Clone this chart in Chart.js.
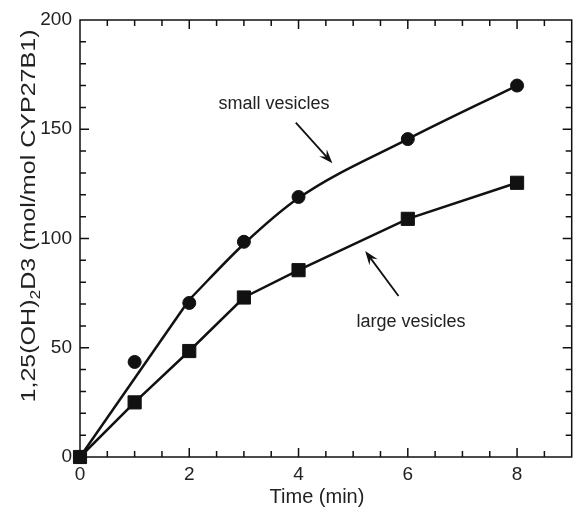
<!DOCTYPE html>
<html>
<head>
<meta charset="utf-8">
<script src="https://cdn.jsdelivr.net/npm/chart.js@4"></script>
<style>
  body { margin: 0; background: #fff; }
  #wrap { width: 582px; height: 511px; }
</style>
</head>
<body>
<div id="wrap"><canvas id="myChart"></canvas></div>
<script>
// data
const timeMin = [0, 1, 2, 3, 4, 6, 8];
const smallVesicles = [0, 43.5, 70.5, 98.5, 119, 145.5, 170];
const largeVesicles = [0, 25, 48.5, 73, 85.5, 109, 125.5];
// fitted curve for small vesicles: straight start, then curved part
const smallFitStartTime = [0, 2];
const smallFitStart = [0, 72];
const smallFitTime = [2, 3, 4, 6, 8];
const smallFit = [72, 97.5, 118.5, 145.5, 170];
const xTicks = [0, 2, 4, 6, 8];
const yTicks = [0, 50, 100, 150, 200];

const FONT = '"Liberation Sans", Arial, Helvetica, sans-serif';
const INK = '#111';

function pts(xs, ys) {
  return xs.map((x, i) => ({ x: x, y: ys[i] }));
}

// frame, inward ticks, y title with subscript, arrows + labels
const decorations = {
  id: 'decorations',
  afterDraw(chart) {
    const ctx = chart.ctx;
    const a = chart.chartArea;
    const xs = chart.scales.x, ys = chart.scales.y;
    ctx.save();
    ctx.strokeStyle = INK;
    ctx.lineWidth = 1.5;
    ctx.strokeRect(a.left, a.top, a.right - a.left, a.bottom - a.top);

    ctx.beginPath();
    for (let v = 0.5; v < 9; v += 0.5) {
      const len = v % 2 === 0 ? 9 : 6;
      const px = xs.getPixelForValue(v);
      ctx.moveTo(px, a.bottom); ctx.lineTo(px, a.bottom - len);
      ctx.moveTo(px, a.top); ctx.lineTo(px, a.top + len);
    }
    for (let v = 10; v < 200; v += 10) {
      const len = v % 50 === 0 ? 9 : 6;
      const py = ys.getPixelForValue(v);
      ctx.moveTo(a.left, py); ctx.lineTo(a.left + len, py);
      ctx.moveTo(a.right, py); ctx.lineTo(a.right - len, py);
    }
    ctx.stroke();

    // x title
    ctx.fillStyle = '#222';
    ctx.font = '20px ' + FONT;
    ctx.textAlign = 'center';
    ctx.textBaseline = 'middle';
    ctx.fillText('Time (min)', 317, 497);

    // y title, rotated, with subscript 2
    ctx.save();
    ctx.translate(29, 216);
    ctx.rotate(-Math.PI / 2);
    const big = '20px ' + FONT, small = '14px ' + FONT;
    const p1 = '1,25(OH)', p2 = '2', p3 = 'D3 (mol/mol CYP27B1)';
    ctx.font = big; const w1 = ctx.measureText(p1).width, w3 = ctx.measureText(p3).width;
    ctx.font = small; const w2 = ctx.measureText(p2).width;
    const total = w1 + w2 + w3;
    const sx = 373 / total;
    ctx.scale(sx, 1);
    let x0 = -total / 2;
    ctx.textAlign = 'left';
    ctx.textBaseline = 'middle';
    ctx.font = big; ctx.fillText(p1, x0, 0);
    ctx.font = small; ctx.fillText(p2, x0 + w1, 7);
    ctx.font = big; ctx.fillText(p3, x0 + w1 + w2, 0);
    ctx.restore();

    // annotations
    const notes = chart.options.plugins.decorations.notes;
    ctx.font = '18px ' + FONT;
    ctx.textAlign = 'center';
    ctx.textBaseline = 'middle';
    notes.forEach(n => {
      ctx.fillStyle = '#222';
      ctx.fillText(n.text, xs.getPixelForValue(n.tx), ys.getPixelForValue(n.ty));
      const x1 = xs.getPixelForValue(n.from[0]), y1 = ys.getPixelForValue(n.from[1]);
      const x2 = xs.getPixelForValue(n.to[0]), y2 = ys.getPixelForValue(n.to[1]);
      const ang = Math.atan2(y2 - y1, x2 - x1);
      ctx.strokeStyle = INK;
      ctx.lineWidth = 1.8;
      ctx.beginPath();
      ctx.moveTo(x1, y1);
      ctx.lineTo(x2 - 8 * Math.cos(ang), y2 - 8 * Math.sin(ang));
      ctx.stroke();
      ctx.fillStyle = INK;
      ctx.beginPath();
      ctx.moveTo(x2, y2);
      ctx.lineTo(x2 - 15 * Math.cos(ang - 0.35), y2 - 15 * Math.sin(ang - 0.35));
      ctx.lineTo(x2 - 9 * Math.cos(ang), y2 - 9 * Math.sin(ang));
      ctx.lineTo(x2 - 15 * Math.cos(ang + 0.35), y2 - 15 * Math.sin(ang + 0.35));
      ctx.closePath();
      ctx.fill();
    });
    ctx.restore();
  }
};

const ctx = document.getElementById('myChart').getContext('2d');
new Chart(ctx, {
  type: 'scatter',
  data: {
    datasets: [
      {
        label: 'small vesicles fit (start)',
        data: pts(smallFitStartTime, smallFitStart),
        showLine: true,
        borderColor: INK,
        borderWidth: 2.5,
        pointRadius: 0,
        clip: false,
        order: 4
      },
      {
        label: 'small vesicles fit',
        data: pts(smallFitTime, smallFit),
        showLine: true,
        borderColor: INK,
        borderWidth: 2.5,
        pointRadius: 0,
        cubicInterpolationMode: 'monotone',
        clip: false,
        order: 3
      },
      {
        label: 'small vesicles',
        data: pts(timeMin, smallVesicles),
        showLine: false,
        pointStyle: 'circle',
        pointRadius: 6.5,
        pointBorderWidth: 1,
        backgroundColor: INK,
        borderColor: INK,
        clip: false,
        order: 2
      },
      {
        label: 'large vesicles',
        data: pts(timeMin, largeVesicles),
        showLine: true,
        borderColor: INK,
        borderWidth: 2.5,
        pointStyle: 'rect',
        pointRadius: 9.3,
        pointBorderWidth: 1,
        pointBackgroundColor: INK,
        pointBorderColor: INK,
        clip: false,
        order: 1
      }
    ]
  },
  options: {
    responsive: true,
    maintainAspectRatio: false,
    animation: false,
    layout: { padding: { left: 0, right: 1, top: 20, bottom: 0 } },
    plugins: {
      legend: { display: false },
      tooltip: { enabled: false },
      decorations: {
        notes: [
          { text: 'small vesicles', tx: 3.55, ty: 161.5, from: [3.95, 153], to: [4.62, 134.4] },
          { text: 'large vesicles', tx: 6.06, ty: 61.8, from: [5.83, 73.7], to: [5.22, 94.3] }
        ]
      }
    },
    scales: {
      x: {
        type: 'linear',
        min: 0,
        max: 9,
        afterBuildTicks: s => { s.ticks = xTicks.map(v => ({ value: v })); },
        afterFit: s => { s.height = 54; },
        grid: { display: false, drawTicks: false },
        border: { display: false },
        ticks: { color: '#222', padding: 6, font: { size: 19, family: FONT } }
      },
      y: {
        type: 'linear',
        min: 0,
        max: 200,
        afterBuildTicks: s => { s.ticks = yTicks.map(v => ({ value: v })); },
        afterFit: s => { s.width = 80; },
        grid: { display: false, drawTicks: false },
        border: { display: false },
        ticks: { color: '#222', padding: 8, font: { size: 19, family: FONT } }
      }
    }
  },
  plugins: [decorations]
});
</script>
</body>
</html>
